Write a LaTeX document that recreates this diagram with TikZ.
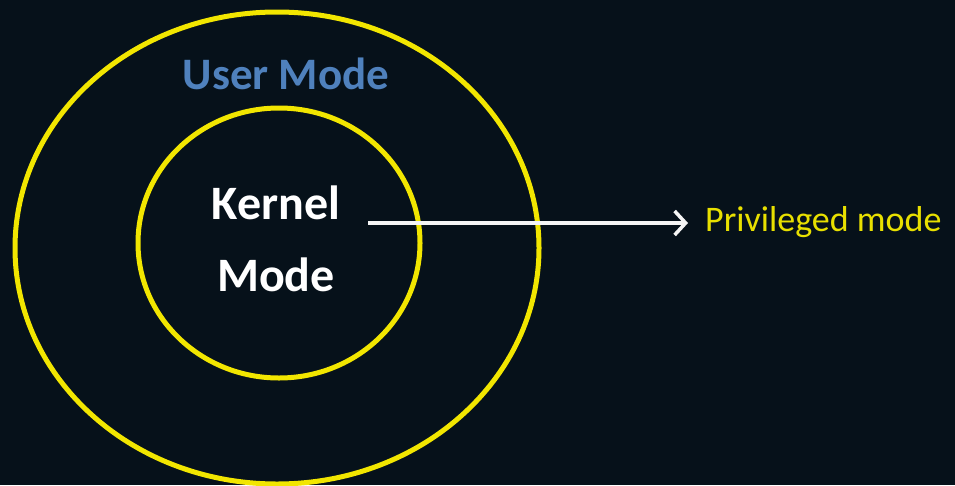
\documentclass[tikz,border=0pt]{standalone}
\usepackage{fontspec}
\setmainfont{Carlito}
\usetikzlibrary{arrows.meta,shapes.geometric}
\definecolor{bg}{HTML}{06111A}
\definecolor{ring}{HTML}{F2E600}
\definecolor{userblue}{HTML}{4F81BD}
\definecolor{privyellow}{HTML}{E8E000}
\tikzset{
  ringstyle/.style={draw=ring, line width=5pt, ellipse, inner sep=0pt},
  arrowstyle/.style={draw=white!92!gray, line width=3.5pt, -{Straight Barb[length=11pt,width=24pt,line width=3.5pt]}},
}
\begin{document}
\begin{tikzpicture}[x=1pt,y=-1pt]
\fill[bg] (0,0) rectangle (955,485);
\useasboundingbox (0,0) rectangle (955,485);
\node[ringstyle, minimum width=524pt, minimum height=472pt] (outer) at (277,248) {};
\node[ringstyle, minimum width=282pt, minimum height=270pt] (inner) at (279,243) {};
\node[text=userblue, font=\fontsize{45}{50}\selectfont\bfseries] (user) at (286,74) {User Mode};
\node[text=white, font=\fontsize{48}{72}\selectfont\bfseries, align=center] (kernel) at (276,239) {Kernel\\Mode};
\node[text=privyellow, font=\fontsize{36}{42}\selectfont, anchor=west, inner sep=0pt] (priv) at (705,222) {Privileged mode};
\coordinate (start) at (368,223);
\draw[arrowstyle] (start) -- ([xshift=-17pt]start -| priv.west);
\end{tikzpicture}
\end{document}
